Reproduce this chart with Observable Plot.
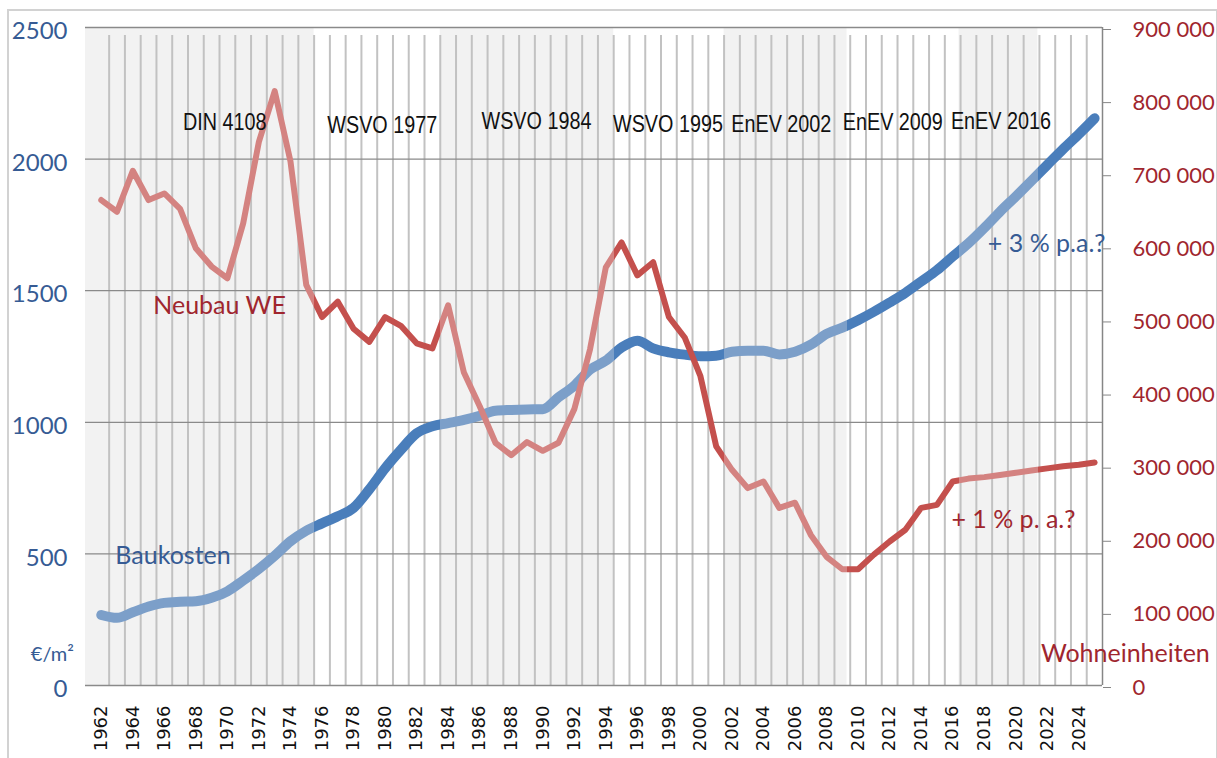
<!DOCTYPE html>
<html>
<head>
<meta charset="utf-8">
<script src="https://cdn.jsdelivr.net/npm/d3@7"></script>
<script src="https://cdn.jsdelivr.net/npm/@observablehq/plot@0.6"></script>
<style>
  body { margin: 0; background: #fff; }
  #wrap { position: relative; width: 1217px; height: 758px; overflow: hidden; }
  #border { position: absolute; left: 7px; top: 9px; width: 1207px; height: 800px; border: 2px solid #d2d2d2; pointer-events: none; }
</style>
</head>
<body>
<div id="wrap"><div id="border"></div></div>
<script>
// ---------- data ----------
const years = [1962,1963,1964,1965,1966,1967,1968,1969,1970,1971,1972,1973,1974,1975,1976,1977,1978,1979,1980,1981,
  1982,1983,1984,1985,1986,1987,1988,1989,1990,1991,1992,1993,1994,1995,1996,1997,1998,1999,2000,2001,
  2002,2003,2004,2005,2006,2007,2008,2009,2010,2011,2012,2013,2014,2015,2016,2017,2018,2019,2020,2021,
  2022,2023,2024,2025];
// Baukosten in €/m² (left axis)
const baukosten = [268,257,278,300,314,318,320,333,358,399,443,493,548,588,616,643,675,745,825,895,
  958,985,997,1009,1025,1044,1047,1049,1050,1095,1139,1200,1234,1284,1310,1281,1266,1257,1251,1253,
  1268,1272,1272,1258,1268,1295,1336,1360,1388,1420,1455,1492,1535,1578,1630,1680,1738,1800,1858,1918,
  1978,2038,2095,2155];
// Neubau Wohneinheiten (right axis)
const neubauWE = [664000,648000,704000,664000,673000,652000,598000,573000,557000,632000,744000,813000,717000,548000,504000,525000,488000,470000,504000,492000,
  468000,461000,520000,428000,382000,332000,315000,333000,321000,332000,378000,460000,572000,606000,561000,579000,504000,476000,423000,327000,
  295000,270000,279000,243000,250000,206000,176000,159000,159000,179000,197000,213000,243000,247000,279000,283000,285000,288000,291000,294000,
  297000,300000,302000,305000];
// regulation periods (shaded bands) as year boundaries
const shadeStart = [1961, 1983.5, 2001.5, 2016.4];
const shadeEnd   = [1975.5, 1994.5, 2009.3, 2021.4];
const regLabels = ["DIN 4108", "WSVO 1977", "WSVO 1984", "WSVO 1995", "EnEV 2002", "EnEV 2009", "EnEV 2016"];
const leftTicks = [0, 500, 1000, 1500, 2000, 2500];
const rightTicks = [0, 100000, 200000, 300000, 400000, 500000, 600000, 700000, 800000, 900000];
const yearLabels = [1962,1964,1966,1968,1970,1972,1974,1976,1978,1980,1982,1984,1986,1988,1990,1992,1994,1996,1998,
  2000,2002,2004,2006,2008,2010,2012,2014,2016,2018,2020,2022,2024];

// ---------- layout / styles ----------
const xDomain = [1961, 2025.5];
const k = 2500 / 900000; // right-axis units -> left-axis units
const rows = years.map((y, i) => ({year: y, bau: baukosten[i], we: neubauWE[i] * k}));
const boundaries = years.slice(0, -1).map(y => y + 0.5);
const shades = shadeStart.map((s, i) => ({s, e: shadeEnd[i]}));
const fmt = v => String(v).replace(/\B(?=(\d{3})+(?!\d))/g, " ");

const BLUE_T = "#365b94", RED_T = "#a0262e";
const calibri = "Lato, 'Open Sans', sans-serif";
const arial = "'Liberation Sans', Arial, sans-serif";

const regPos = [[1969.83, 2139], [1979.82, 2126], [1989.6, 2141], [1997.94, 2130], [2005.13, 2130], [2012.2, 2137], [2019.06, 2143]];

const plot = Plot.plot({
  width: 1217, height: 758,
  marginLeft: 85, marginRight: 115, marginTop: 27, marginBottom: 73,
  style: {background: "transparent", overflow: "visible"},
  x: {domain: xDomain, axis: null},
  y: {domain: [0, 2500], axis: null},
  marks: [
    Plot.rect(shades, {x1: "s", x2: "e", fill: "#f2f2f2"}),
    Plot.ruleX(boundaries, {y1: 0, y2: 2500, insetBottom: -8, stroke: "#c2c2c2", strokeWidth: 2}),
    Plot.ruleY(leftTicks, {stroke: "#8a8a8a", strokeWidth: 1.3}),
    Plot.ruleX([xDomain[1]], {y1: 0, y2: 2500, stroke: "#868686", strokeWidth: 1.5}),
    Plot.axisY(leftTicks, {anchor: "left", tickSize: 0, tickPadding: 18, dy: 4, tickFormat: d => String(d),
      fontSize: 24, fontFamily: calibri, fill: BLUE_T}),
    Plot.axisY(rightTicks.map(v => v * k), {anchor: "right", tickSize: 8, tickPadding: 22, dy: 2, stroke: "#868686",
      tickFormat: d => fmt(Math.round(d / k)), fontSize: 22, fontFamily: calibri, fill: RED_T, textAnchor: "start"}),
    Plot.axisX(yearLabels, {anchor: "bottom", tickSize: 0, tickPadding: 20, tickRotate: -90, tickFormat: d => String(d),
      fontSize: 18, fontFamily: "'DejaVu Sans', sans-serif", fill: "#111"}),
    Plot.line(rows, {x: "year", y: "bau", stroke: "url(#gBlue)", strokeWidth: 10, curve: "monotone-x", strokeLinecap: "round", strokeLinejoin: "round"}),
    Plot.line(rows, {x: "year", y: "we", stroke: "url(#gRed)", strokeWidth: 6, curve: "linear", strokeLinecap: "round", strokeLinejoin: "round"}),
    Plot.text(regLabels, {x: (d, i) => regPos[i][0], y: (d, i) => regPos[i][1], text: d => d, fontSize: 23, fontFamily: arial, fill: "#111"}),
    Plot.text(["Neubau WE"], {x: [1969.5], y: [1443], text: d => d, fontSize: 25, fontFamily: calibri, fill: RED_T}),
    Plot.text(["Baukosten"], {x: [1966.55], y: [493], text: d => d, fontSize: 25, fontFamily: calibri, fill: BLUE_T}),
    Plot.text(["€/m²"], {x: [1958.9], y: [118], text: d => d, fontSize: 20, fontFamily: calibri, fill: BLUE_T}),
    Plot.text(["Wohneinheiten"], {x: [2026.95], y: [121], text: d => d, fontSize: 25, fontFamily: calibri, fill: RED_T}),
    Plot.text(["+ 3 % p.a.?"], {x: [2021.96], y: [1678], text: d => d, fontSize: 25, fontFamily: calibri, fill: BLUE_T}),
    Plot.text(["+ 1 % p. a.?"], {x: [2019.85], y: [630], text: d => d, fontSize: 25, fontFamily: calibri, fill: RED_T})
  ]
});

// colour the lines by regulation period (light in shaded bands, dark elsewhere)
const xs = plot.scale("x");
const svg = d3.select(plot);
const defs = svg.insert("defs", ":first-child");
const segs = [];
let cur = xDomain[0];
shadeStart.forEach((s, i) => { if (s > cur) segs.push([cur, s, false]); segs.push([s, shadeEnd[i], true]); cur = shadeEnd[i]; });
if (cur < xDomain[1]) segs.push([cur, xDomain[1], false]);
function grad(id, light, dark) {
  const g = defs.append("linearGradient").attr("id", id).attr("gradientUnits", "userSpaceOnUse")
    .attr("x1", 0).attr("x2", 1217).attr("y1", 0).attr("y2", 0);
  segs.forEach(([a, b, sh]) => {
    const c = sh ? light : dark;
    g.append("stop").attr("offset", xs.apply(a) / 1217).attr("stop-color", c);
    g.append("stop").attr("offset", xs.apply(b) / 1217).attr("stop-color", c);
  });
}
grad("gBlue", "#7c9fc9", "#4a7ebb");
grad("gRed", "#d48381", "#c4504d");

document.getElementById("wrap").insertBefore(plot, document.getElementById("border"));

// the regulation labels use a condensed face in the original: narrow them horizontally
svg.selectAll("text").filter(function () { return regLabels.includes(this.textContent.trim()); }).each(function () {
  const L = this.getComputedTextLength();
  if (L > 0) {
    this.setAttribute("textLength", (L * 0.86).toFixed(1));
    this.setAttribute("lengthAdjust", "spacingAndGlyphs");
  }
});
</script>
</body>
</html>
